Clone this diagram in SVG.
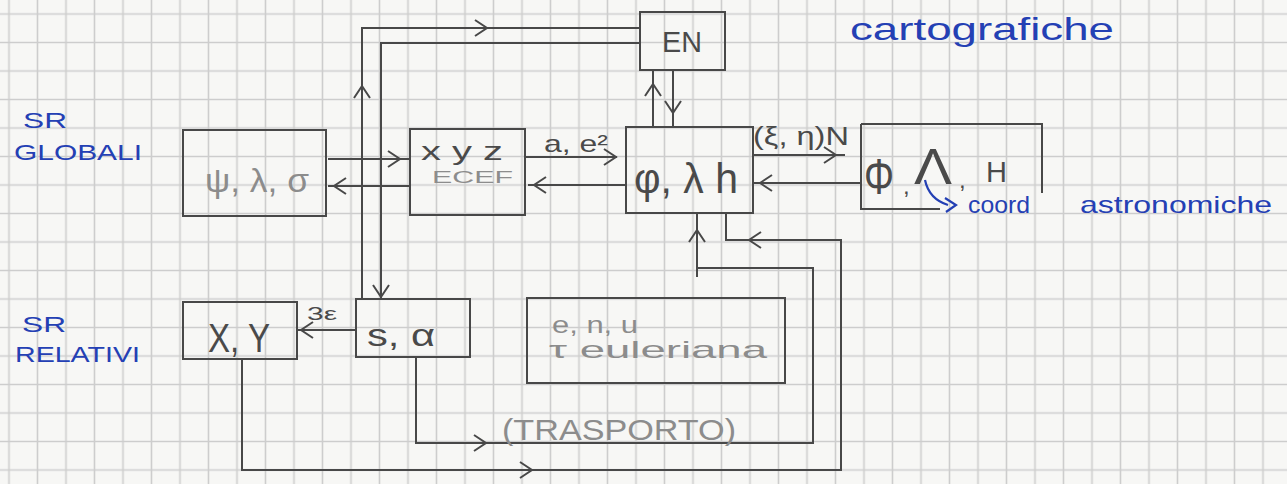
<svg xmlns="http://www.w3.org/2000/svg" xmlns:xlink="http://www.w3.org/1999/xlink" width="1287" height="484" viewBox="0 0 1287 484">
  <style>
    .box { fill: none; stroke: #484848; stroke-width: 2; }
    .ln { fill: none; stroke: #484848; stroke-width: 2; stroke-linejoin: miter; }
    .t { font-family: "Liberation Sans", "DejaVu Sans", sans-serif; fill: #4a4a4a; }
    .tl { font-family: "Liberation Sans", "DejaVu Sans", sans-serif; fill: #8c8c8c; }
    .blue { font-family: "Liberation Sans", "DejaVu Sans", sans-serif; fill: #2440b4; }
  </style>
  <defs>
    <pattern id="grid" patternUnits="userSpaceOnUse" x="-5.25" y="-0.25" width="28.5" height="28.5">
      <path d="M14.25 0 V28.5 M0 14.25 H28.5" stroke="#cdcdcd" stroke-width="1.6" fill="none"/>
    </pattern>
    <path id="chev" d="M-12,-8 L0,0 L-12,8" fill="none" stroke="#484848" stroke-width="2"/>
  </defs>

  <rect x="0" y="0" width="1287" height="484" fill="#f7f7f5"/>
  <rect x="0" y="0" width="1287" height="484" fill="url(#grid)"/>

  <!-- side labels -->
  <g id="label-globali">
    <text class="blue" x="23" y="128" font-size="22" textLength="44" lengthAdjust="spacingAndGlyphs">SR</text>
    <text class="blue" x="14" y="160" font-size="22" textLength="128" lengthAdjust="spacingAndGlyphs">GLOBALI</text>
  </g>
  <g id="label-relativi">
    <text class="blue" x="22" y="332" font-size="22" textLength="44" lengthAdjust="spacingAndGlyphs">SR</text>
    <text class="blue" x="15" y="362" font-size="22" textLength="125" lengthAdjust="spacingAndGlyphs">RELATIVI</text>
  </g>
  <g id="label-cartografiche">
    <text class="blue" x="850" y="40" font-size="32" textLength="264" lengthAdjust="spacingAndGlyphs">cartografiche</text>
  </g>

  <!-- connectors -->
  <g id="connectors">
    <!-- psi <-> ECEF -->
    <path class="ln" d="M328,159 H410"/>
    <use xlink:href="#chev" href="#chev" transform="translate(400,159)"/>
    <path class="ln" d="M410,186 H328"/>
    <use xlink:href="#chev" href="#chev" transform="translate(334,186) rotate(180)"/>
    <!-- ECEF <-> phi -->
    <path class="ln" d="M525,157 H617"/>
    <use xlink:href="#chev" href="#chev" transform="translate(616,157)"/>
    <path class="ln" d="M626,185 H528"/>
    <use xlink:href="#chev" href="#chev" transform="translate(534,185) rotate(180)"/>
    <!-- phi <-> Phi -->
    <path class="ln" d="M753,155 H845"/>
    <use xlink:href="#chev" href="#chev" transform="translate(836,155)"/>
    <path class="ln" d="M861,183 H753"/>
    <use xlink:href="#chev" href="#chev" transform="translate(760,183) rotate(180)"/>
    <!-- phi <-> EN -->
    <path class="ln" d="M653,127 V70"/>
    <use xlink:href="#chev" href="#chev" transform="translate(653,84) rotate(-90)"/>
    <path class="ln" d="M673,70 V127"/>
    <use xlink:href="#chev" href="#chev" transform="translate(673,113) rotate(90)"/>
    <!-- s,alpha -> EN -->
    <path class="ln" d="M362,299 V28 H640"/>
    <use xlink:href="#chev" href="#chev" transform="translate(362,86) rotate(-90)"/>
    <use xlink:href="#chev" href="#chev" transform="translate(487,28)"/>
    <!-- EN -> s,alpha -->
    <path class="ln" d="M640,43 H381 V299"/>
    <use xlink:href="#chev" href="#chev" transform="translate(381,297) rotate(90)"/>
    <!-- s,alpha -> X,Y -->
    <path class="ln" d="M356,330 H297"/>
    <use xlink:href="#chev" href="#chev" transform="translate(301,330) rotate(180)"/>
    <!-- s,alpha -> phi (trasporto) -->
    <path class="ln" d="M416,357 V443 H813 V268 H697 V213"/>
    <path class="ln" d="M697,268 V277"/>
    <use xlink:href="#chev" href="#chev" transform="translate(486,443)"/>
    <use xlink:href="#chev" href="#chev" transform="translate(697,230) rotate(-90)"/>
    <!-- X,Y -> phi -->
    <path class="ln" d="M242,359 V470 H841 V240 H726 V213"/>
    <use xlink:href="#chev" href="#chev" transform="translate(532,470)"/>
    <use xlink:href="#chev" href="#chev" transform="translate(749,240) rotate(180)"/>
    <!-- labels -->
    <text class="t" x="544" y="152" font-size="24" textLength="64" lengthAdjust="spacingAndGlyphs">a, e²</text>
    <text class="t" x="753" y="145" font-size="26" textLength="96" lengthAdjust="spacingAndGlyphs">(ξ, η)N</text>
    <text class="t" x="307" y="320" font-size="18" textLength="30" lengthAdjust="spacingAndGlyphs">3ε</text>
    <text class="tl" x="502" y="440" font-size="30" textLength="234" lengthAdjust="spacingAndGlyphs">(TRASPORTO)</text>
  </g>

  <!-- nodes -->
  <g id="node-psi">
    <rect class="box" x="183" y="130" width="143" height="86"/>
    <text class="tl" x="205" y="192" font-size="34" textLength="104" lengthAdjust="spacingAndGlyphs">ψ, λ, σ</text>
  </g>
  <g id="node-ecef">
    <rect class="box" x="410" y="129" width="115" height="86"/>
    <text class="t" x="421" y="160" font-size="26" textLength="82" lengthAdjust="spacingAndGlyphs">x y z</text>
    <text class="tl" x="432" y="183" font-size="17" textLength="81" lengthAdjust="spacingAndGlyphs">ECEF</text>
  </g>
  <g id="node-en">
    <rect class="box" x="640" y="12" width="85" height="58"/>
    <text class="t" x="662" y="52" font-size="29" textLength="40" lengthAdjust="spacingAndGlyphs">EN</text>
  </g>
  <g id="node-phi-lambda-h">
    <rect class="box" x="626" y="127" width="127" height="86"/>
    <text class="t" x="634" y="193" font-size="42" textLength="104" lengthAdjust="spacingAndGlyphs">φ, λ h</text>
  </g>
  <g id="node-astro">
    <path class="box" d="M861,124 H1042 V193 M861,124 V209 H940"/>
    <text class="t" x="864" y="194" font-size="50" textLength="30" lengthAdjust="spacingAndGlyphs">Φ</text>
    <text class="t" x="903" y="194" font-size="24">,</text>
    <text class="t" x="914" y="184" font-size="50" textLength="38" lengthAdjust="spacingAndGlyphs">Λ</text>
    <text class="t" x="959" y="188" font-size="24">,</text>
    <text class="t" x="986" y="182" font-size="30" textLength="21" lengthAdjust="spacingAndGlyphs">H</text>
    <path d="M925,180 Q929,199 948,205" fill="none" stroke="#2440b4" stroke-width="2.2"/>
    <path d="M945,198 L956,205 L946,212" fill="none" stroke="#2440b4" stroke-width="2.2"/>
    <text class="blue" x="968" y="213" font-size="24" textLength="62" lengthAdjust="spacingAndGlyphs">coord</text>
    <text class="blue" x="1080" y="213" font-size="24" textLength="192" lengthAdjust="spacingAndGlyphs">astronomiche</text>
  </g>
  <g id="node-xy">
    <rect class="box" x="183" y="302" width="114" height="57"/>
    <text class="t" x="208" y="352" font-size="40" textLength="62" lengthAdjust="spacingAndGlyphs">X, Y</text>
  </g>
  <g id="node-s-alpha">
    <rect class="box" x="356" y="299" width="114" height="58"/>
    <text class="t" x="367" y="346" font-size="32" textLength="68" lengthAdjust="spacingAndGlyphs">s, α</text>
  </g>
  <g id="node-enu">
    <rect class="box" x="527" y="298" width="258" height="85"/>
    <text class="tl" x="552" y="333" font-size="24" textLength="86" lengthAdjust="spacingAndGlyphs">e, n, u</text>
    <text class="tl" x="549" y="358" font-size="24" textLength="218" lengthAdjust="spacingAndGlyphs">τ euleriana</text>
  </g>
</svg>
